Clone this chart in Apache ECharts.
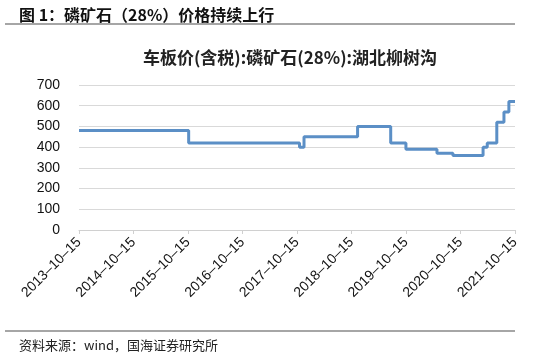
<!DOCTYPE html>
<html>
<head>
<meta charset="utf-8">
<script src="https://cdn.jsdelivr.net/npm/echarts@6/dist/echarts.min.js"></script>
<style>
  html, body { margin: 0; padding: 0; background: #fff; }
  #chart { width: 553px; height: 353px; }
</style>
</head>
<body>
<div id="chart"></div>
<script>
// step dates where the price changes, and the price from that date on
const stepDates = [
  '2013-10-15', '2015-10-20', '2017-11-01', '2017-12-01', '2018-11-25',
  '2019-07-05', '2019-10-15', '2020-05-10', '2020-08-25', '2021-03-15',
  '2021-04-12', '2021-06-15', '2021-08-02', '2021-09-04', '2021-10-15'
]
const stepPrices = [480, 420, 400, 450, 500, 420, 390, 370, 360, 400, 420, 520, 570, 620, 620]
const tickDates = [
  '2013-10-15', '2014-10-15', '2015-10-15', '2016-10-15', '2017-10-15',
  '2018-10-15', '2019-10-15', '2020-10-15', '2021-10-15'
]

const toMs = s => new Date(s + 'T00:00:00Z').getTime()
const fmt = ms => {
  const d = new Date(ms)
  const p = n => (n < 10 ? '0' : '') + n
  return d.getUTCFullYear() + '-' + p(d.getUTCMonth() + 1) + '-' + p(d.getUTCDate())
}

const chart = echarts.init(document.getElementById('chart'))
const option = {
  backgroundColor: '#fff',
  animation: false,
  title: [
    {
      text: '图 1：磷矿石（28%）价格持续上行',
      left: 14, top: 2,
      textStyle: { fontSize: 16, fontWeight: 'bold', color: '#111', fontFamily: 'Noto Sans CJK SC' }
    },
    {
      text: '车板价(含税):磷矿石(28%):湖北柳树沟',
      left: 285, top: 44, textAlign: 'center',
      textStyle: { fontSize: 17, fontWeight: 'bold', color: '#222', fontFamily: 'Noto Sans CJK SC' }
    },
    {
      text: '资料来源：wind，国海证券研究所',
      left: 14, top: 334,
      textStyle: { fontSize: 13, fontWeight: 'normal', color: '#222', fontFamily: 'Noto Sans CJK SC' }
    }
  ],
  graphic: [
    { type: 'line', shape: { x1: 5, y1: 24, x2: 515, y2: 24 }, style: { stroke: '#888', lineWidth: 1.5 } },
    { type: 'line', shape: { x1: 5, y1: 331, x2: 515, y2: 331 }, style: { stroke: '#888', lineWidth: 1.5 } }
  ],
  grid: { left: 79, right: 38, top: 85, bottom: 123 },
  xAxis: {
    type: 'value',
    min: toMs(tickDates[0]),
    max: toMs(tickDates[tickDates.length - 1]),
    splitLine: { show: false },
    axisLine: { lineStyle: { color: '#d0d0d0' } },
    axisTick: { show: true, customValues: tickDates.map(toMs), length: 4, lineStyle: { color: '#d0d0d0' } },
    axisLabel: {
      customValues: tickDates.map(toMs),
      formatter: v => fmt(v).replace(/-/g, '–'),
      rotate: 45, color: '#111', fontSize: 14, fontFamily: 'Liberation Sans',
      margin: 10
    }
  },
  yAxis: {
    type: 'value',
    min: 0, max: 700, interval: 100,
    axisLine: { show: false },
    axisTick: { show: false },
    splitLine: { lineStyle: { color: '#d9d9d9', width: 1 } },
    axisLabel: { color: '#111', fontSize: 14, fontFamily: 'Liberation Sans', margin: 19 }
  },
  series: [
    {
      type: 'line',
      step: 'end',
      symbol: 'none',
      data: stepDates.map((d, i) => [toMs(d), stepPrices[i]]),
      lineStyle: { color: '#5b8fc6', width: 3 }
    }
  ]
}
chart.setOption(option)
</script>
</body>
</html>
